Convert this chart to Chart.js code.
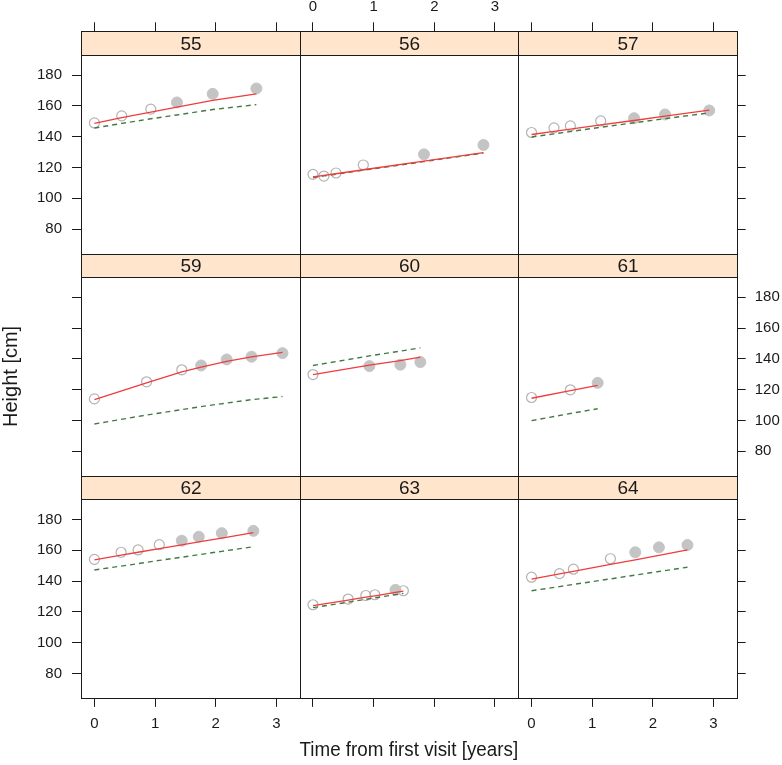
<!DOCTYPE html>
<html>
<head>
<meta charset="utf-8">
<title>Height by subject</title>
<script src="https://cdn.jsdelivr.net/npm/chart.js@4.4.1/dist/chart.umd.min.js"></script>
<style>
  body { margin: 0; background: #fff; }
  #wrap { position: relative; width: 782px; height: 765px; }
  #wrap canvas { position: absolute; left: 0; top: 0; }
</style>
</head>
<body>
<div id="wrap"></div>
<script>
// one panel per subject
const panelIds = ['55', '56', '57', '59', '60', '61', '62', '63', '64'];

const visitTimes = [
  [0, 0.45, 0.93, 1.36, 1.95, 2.67],
  [0, 0.18, 0.38, 0.83, 1.83, 2.81],
  [0, 0.37, 0.64, 1.14, 1.69, 2.20, 2.93],
  [0, 0.86, 1.44, 1.76, 2.18, 2.59, 3.10],
  [0, 0.93, 1.44, 1.77],
  [0, 0.64, 1.09],
  [0, 0.44, 0.72, 1.07, 1.44, 1.72, 2.10, 2.62],
  [0, 0.58, 0.87, 1.02, 1.36, 1.49],
  [0, 0.46, 0.69, 1.30, 1.71, 2.10, 2.57]
];

const heights = [
  [148.9, 153.5, 157.9, 162.2, 167.8, 171.3],
  [115.5, 114.4, 116.4, 121.6, 128.5, 134.6],
  [142.7, 145.7, 147.0, 150.2, 152.0, 154.4, 157.0],
  [114.0, 125.1, 132.9, 135.7, 139.6, 141.4, 143.7],
  [129.8, 135.3, 136.2, 137.9],
  [114.9, 119.9, 124.4],
  [154.1, 158.7, 160.2, 163.6, 166.2, 168.8, 171.1, 172.6],
  [124.6, 128.3, 130.6, 131.1, 134.3, 133.7],
  [142.5, 144.8, 147.7, 154.5, 158.7, 161.9, 163.4]
];

// 1 = filled marker, 0 = open marker
const filledFlags = [
  [0, 0, 0, 1, 1, 1],
  [0, 0, 0, 0, 1, 1],
  [0, 0, 0, 0, 1, 1, 1],
  [0, 0, 0, 1, 1, 1, 1],
  [0, 1, 1, 1],
  [0, 0, 1],
  [0, 0, 0, 0, 1, 1, 1, 1],
  [0, 0, 0, 0, 1, 0],
  [0, 0, 0, 0, 1, 1, 1]
];

// subject fit (red)
const fitted = [
  [148.6, 152.4, 156.0, 159.2, 163.6, 167.8],
  [113.8, 114.8, 115.9, 118.5, 124.1, 129.6],
  [141.4, 143.4, 144.9, 147.6, 150.5, 153.3, 157.2],
  [113.5, 124.4, 131.6, 134.6, 138.3, 141.3, 144.2],
  [129.8, 135.9, 138.9, 141.1],
  [114.4, 119.3, 122.7],
  [153.7, 156.8, 158.7, 161.0, 163.5, 165.4, 167.9, 171.4],
  [124.0, 127.6, 129.5, 130.4, 132.6, 133.5],
  [141.2, 144.6, 146.3, 150.8, 153.8, 156.7, 160.2]
];

// population curve (green dashed)
const population = [
  [145.6, 148.6, 151.6, 154.1, 157.6, 160.8],
  [113.5, 114.5, 115.6, 118.2, 123.8, 129.3],
  [139.8, 141.8, 143.3, 146.1, 149.0, 151.7, 155.4],
  [97.7, 103.5, 107.0, 109.0, 111.3, 113.5, 115.5],
  [135.7, 141.9, 145.0, 147.2],
  [99.9, 104.5, 107.6],
  [147.2, 149.7, 151.3, 153.4, 155.5, 157.1, 159.3, 162.3],
  [122.7, 126.3, 128.1, 129.1, 131.2, 132.0],
  [133.7, 136.4, 137.8, 141.4, 143.9, 146.2, 149.0]
];

const xTicks = [0, 1, 2, 3];
const yTicks = [80, 100, 120, 140, 160, 180];
const xRange = [-0.221, 3.382];
const yRange = [64.1, 193.1];

// page layout in px
const W = 782, H = 765;
const gridLeft = 81, gridRight = 736.7, gridTop = 31.3, gridBottom = 697.9;
const stripH = 23.6;
const colW = (gridRight - gridLeft) / 3;
const rowH = (gridBottom - gridTop) / 3;
const plotH = rowH - stripH;
// the strip sits inside the chart area, above the data range
const yTop = yRange[1] + stripH * (yRange[1] - yRange[0]) / plotH;

const FONT = '"Liberation Sans", Arial, sans-serif';
const INK = '#1a1a1a';

const panelFrame = {
  id: 'panelFrame',
  beforeDatasetsDraw(chart, args, opts) {
    const { ctx, chartArea: a } = chart;
    const l = Math.round(a.left) + 0.5, r = Math.round(a.right) + 0.5;
    const t = Math.round(a.top) + 0.5, s = Math.round(a.top + stripH) + 0.5;
    const b = Math.round(a.bottom) + 0.5;
    ctx.save();
    ctx.fillStyle = '#ffe5cc';
    ctx.fillRect(l, t, r - l, s - t);
    ctx.strokeStyle = INK;
    ctx.lineWidth = 1;
    ctx.strokeRect(l, t, r - l, s - t);
    ctx.strokeRect(l, s, r - l, b - s);
    ctx.fillStyle = INK;
    ctx.font = '19px ' + FONT;
    ctx.textAlign = 'center';
    ctx.textBaseline = 'middle';
    ctx.fillText(opts.label, (l + r) / 2, (t + s) / 2 + 1);
    ctx.restore();
  },
  afterDraw(chart, args, opts) {
    if (!opts.yTitle) return;
    const { ctx } = chart;
    ctx.save();
    ctx.translate(11.5, gridTop + rowH + stripH + plotH / 2);
    ctx.rotate(-Math.PI / 2);
    ctx.fillStyle = INK;
    ctx.font = '20px ' + FONT;
    ctx.textAlign = 'center';
    ctx.textBaseline = 'middle';
    ctx.fillText(opts.yTitle, 0, 0);
    ctx.restore();
  }
};

const wrap = document.getElementById('wrap');

panelIds.forEach((id, i) => {
  const r = Math.floor(i / 3), c = i % 3;
  const left = gridLeft + c * colW, right = left + colW;
  const top = gridTop + r * rowH, bottom = top + rowH;

  const canvas = document.createElement('canvas');
  canvas.width = W;
  canvas.height = H;
  wrap.appendChild(canvas);

  const t = visitTimes[i];
  const obs = t.map((x, k) => ({ x, y: heights[i][k], f: filledFlags[i][k] }));
  const openPts = obs.filter(p => !p.f);
  const filledPts = obs.filter(p => p.f);
  const fitPts = t.map((x, k) => ({ x, y: fitted[i][k] }));
  const popPts = t.map((x, k) => ({ x, y: population[i][k] }));

  const hasX = r !== 1, hasY = c !== 1;
  const showX = (r === 0 && c === 1) || (r === 2 && c !== 1);
  const showY = (c === 0 && r !== 1) || (c === 2 && r === 1);

  new Chart(canvas, {
    type: 'scatter',
    data: {
      datasets: [
        { data: fitPts, showLine: true, borderColor: '#f03c3c', borderWidth: 1.3, pointRadius: 0, fill: false },
        { data: popPts, showLine: true, borderColor: '#427a42', borderWidth: 1.4, borderDash: [5, 4], pointRadius: 0, fill: false },
        { data: filledPts, pointRadius: 5.5, pointBackgroundColor: '#c4c4c4', pointBorderColor: '#c4c4c4', pointBorderWidth: 1 },
        { data: openPts, pointRadius: 5, pointBackgroundColor: 'rgba(0,0,0,0)', pointBorderColor: '#b3b3b3', pointBorderWidth: 1.2 }
      ]
    },
    options: {
      responsive: false,
      animation: false,
      events: [],
      layout: {
        autoPadding: false,
        padding: {
          left: c === 0 ? 0 : left,
          right: c === 2 ? 0 : W - right,
          top: r === 0 ? 0 : top,
          bottom: r === 2 ? 0 : H - bottom
        }
      },
      plugins: {
        legend: { display: false },
        tooltip: { enabled: false },
        panelFrame: { label: id, yTitle: (r === 1 && c === 0) ? 'Height [cm]' : null }
      },
      scales: {
        x: {
          type: 'linear',
          min: xRange[0],
          max: xRange[1],
          position: r === 0 ? 'top' : 'bottom',
          display: hasX,
          afterBuildTicks: s => { s.ticks = xTicks.map(v => ({ value: v })); },
          afterFit: s => { s.height = !hasX ? 0 : (r === 0 ? top : H - bottom); },
          border: { display: false },
          grid: { drawOnChartArea: false, drawTicks: true, tickLength: 9, color: INK, lineWidth: 1 },
          ticks: {
            color: showX ? INK : 'rgba(0,0,0,0)',
            font: { family: FONT, size: 15 },
            padding: r === 0 ? 6 : 8,
            maxRotation: 0,
            autoSkip: false,
            callback: v => String(v)
          },
          title: {
            display: r === 2 && c === 1,
            text: 'Time from first visit [years]',
            color: INK,
            font: { family: FONT, size: 20 },
            padding: { top: 0, bottom: 3 }
          }
        },
        y: {
          type: 'linear',
          min: yRange[0],
          max: yTop,
          position: c === 2 ? 'right' : 'left',
          display: hasY,
          afterBuildTicks: s => { s.ticks = yTicks.map(v => ({ value: v })); },
          afterFit: s => { s.width = !hasY ? 0 : (c === 0 ? left : W - right); },
          border: { display: false },
          grid: { drawOnChartArea: false, drawTicks: true, tickLength: 9, color: INK, lineWidth: 1 },
          ticks: {
            color: showY ? INK : 'rgba(0,0,0,0)',
            font: { family: FONT, size: 15 },
            padding: c === 0 ? 10 : 9,
            autoSkip: false,
            callback: v => String(v)
          }
        }
      }
    },
    plugins: [panelFrame]
  });
});
</script>
</body>
</html>
